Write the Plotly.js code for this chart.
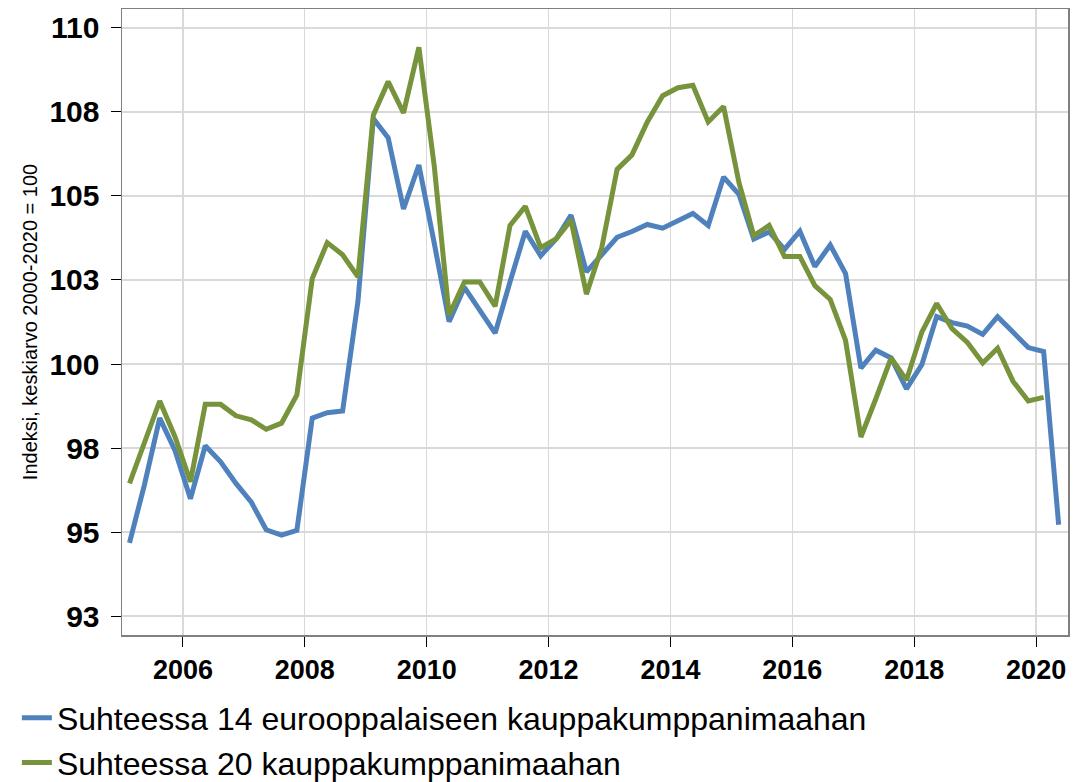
<!DOCTYPE html>
<html>
<head>
<meta charset="utf-8">
<script src="https://cdn.plot.ly/plotly-3.0.1.min.js"></script>
<style>html,body{margin:0;padding:0;background:#fff;}#chart{width:1089px;height:782px;}</style>
</head>
<body>
<div id="chart"></div>
<script>
// Quarterly periods 2005 Q1 .. 2020 Q2 (mid-quarter dates)
var startYear = 2005;
var quarterMid = ['02-15', '05-15', '08-15', '11-15'];

var seriesNames = [
  'Suhteessa 14 eurooppalaiseen kauppakumppanimaahan',
  'Suhteessa 20 kauppakumppanimaahan'
];

var euro14 = [94.68, 96.40, 98.39, 97.42, 95.99, 97.57, 97.09, 96.45, 95.89, 95.07,
  94.91, 95.05, 98.39, 98.55, 98.60, 101.87, 107.30, 106.73, 104.61, 105.92,
  103.60, 101.26, 102.28, 101.62, 100.92, 102.44, 103.95, 103.22, 103.72, 104.43,
  102.74, 103.25, 103.77, 103.94, 104.15, 104.04, 104.28, 104.48, 104.12, 105.56,
  105.05, 103.72, 103.93, 103.41, 103.95, 102.90, 103.54, 102.69, 99.88, 100.41,
  100.18, 99.26, 99.98, 101.41, 101.23, 101.13, 100.88, 101.41, 100.95, 100.49,
  100.37, 95.22];

var partners20 = [96.45, 97.65, 98.90, 97.83, 96.50, 98.80, 98.80, 98.46, 98.34, 98.06,
  98.24, 99.08, 102.54, 103.61, 103.25, 102.59, 107.40, 108.40, 107.47, 109.42,
  105.90, 101.46, 102.44, 102.44, 101.72, 104.12, 104.69, 103.46, 103.72, 104.28,
  102.08, 103.46, 105.79, 106.22, 107.20, 107.98, 108.22, 108.29, 107.20, 107.66,
  105.40, 103.82, 104.12, 103.20, 103.20, 102.33, 101.92, 100.70, 97.83, 98.96,
  100.18, 99.52, 100.95, 101.80, 101.05, 100.64, 100.03, 100.47, 99.49, 98.90,
  99.01];

var yTickVals = [92.5, 95, 97.5, 100, 102.5, 105, 107.5, 110];
var yTickText = ['93', '95', '98', '100', '103', '105', '108', '110'];
var yTitle = 'Indeksi, keskiarvo 2000-2020 = 100';
var refLevel = 100;

function quarterDates(n) {
  var out = [];
  for (var i = 0; i < n; i++) {
    var y = startYear + Math.floor(i / 4);
    out.push(y + '-' + quarterMid[i % 4]);
  }
  return out;
}

var FONT = '"Liberation Sans", Arial, sans-serif';

var traces = [
  {
    x: quarterDates(euro14.length), y: euro14, name: seriesNames[0],
    type: 'scatter', mode: 'lines',
    line: {color: '#4F81BD', width: 5}
  },
  {
    x: quarterDates(partners20.length), y: partners20, name: seriesNames[1],
    type: 'scatter', mode: 'lines',
    line: {color: '#77933C', width: 5}
  }
];

var layout = {
  width: 1089, height: 782,
  margin: {l: 122, r: 21, t: 9, b: 147, pad: 0},
  paper_bgcolor: '#ffffff', plot_bgcolor: '#ffffff',
  font: {family: FONT, color: '#000000'},
  showlegend: true,
  legend: {
    orientation: 'h', xref: 'container', yref: 'container',
    x: 0.0155, y: 0.117, xanchor: 'left', yanchor: 'top',
    entrywidthmode: 'fraction', entrywidth: 0.95,
    font: {size: 32, family: FONT, color: '#000'},
    bgcolor: 'rgba(0,0,0,0)', borderwidth: 0
  },
  xaxis: {
    type: 'date',
    range: ['2005-01-01', '2020-07-10'],
    tick0: '2006-01-01', dtick: 'M24', tickformat: '%Y', tickangle: 0,
    ticks: 'outside', ticklen: 10, tickwidth: 1, tickcolor: '#000',
    tickfont: {size: 27, family: FONT, color: '#000', weight: 'bold'},
    showgrid: true, gridcolor: '#d9d9d9', gridwidth: 1.5,
    showline: true, linecolor: '#808080', linewidth: 1.5, mirror: true,
    zeroline: false, fixedrange: true
  },
  yaxis: {
    range: [91.94, 110.56],
    tickmode: 'array', tickvals: yTickVals, ticktext: yTickText,
    ticks: 'outside', ticklen: 10, tickwidth: 1, tickcolor: '#000',
    ticklabelstandoff: 5,
    tickfont: {size: 30, family: FONT, color: '#000', weight: 'bold'},
    showgrid: true, gridcolor: '#d9d9d9', gridwidth: 1.5,
    showline: true, linecolor: '#808080', linewidth: 1.5, mirror: true,
    zeroline: false, fixedrange: true,
    title: {text: yTitle, font: {size: 20, family: FONT, color: '#000'}, standoff: 6}
  },
  shapes: [{
    type: 'line', xref: 'paper', x0: 0, x1: 1, yref: 'y', y0: refLevel, y1: refLevel,
    line: {color: '#000000', width: 2}, layer: 'below'
  }]
};

Plotly.newPlot('chart', traces, layout, {displayModeBar: false, staticPlot: true});
</script>
</body>
</html>
